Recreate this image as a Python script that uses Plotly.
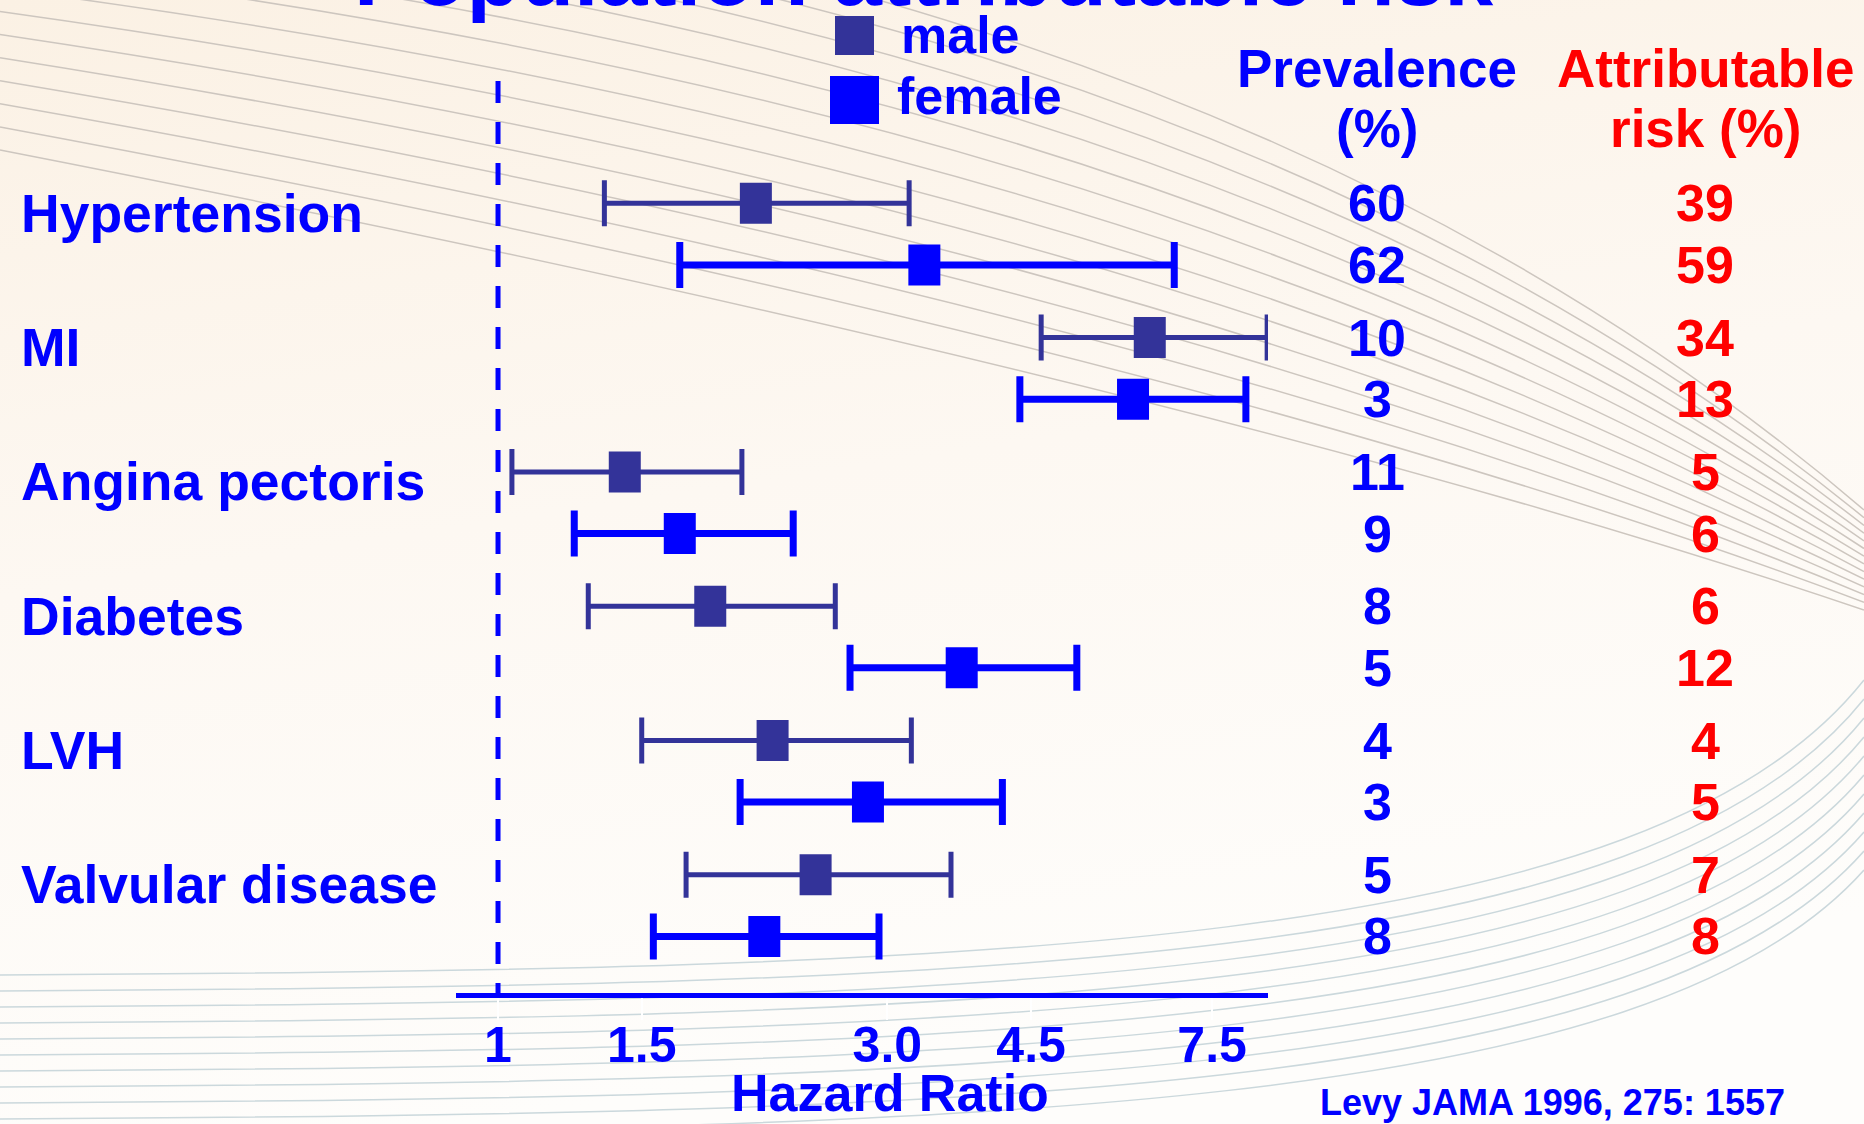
import base64
import math
import plotly.graph_objects as go

# ---------------- data ----------------
categories = ["Hypertension", "MI", "Angina pectoris", "Diabetes", "LVH", "Valvular disease"]

male_hr = [2.07, 6.29, 1.43, 1.82, 2.17, 2.45]
male_lo = [1.35, 4.63, 1.04, 1.29, 1.50, 1.70]
male_hi = [3.19, 8.76, 1.99, 2.59, 3.21, 3.59]

female_hr = [3.33, 6.00, 1.67, 3.70, 2.84, 2.12]
female_lo = [1.67, 4.36, 1.24, 2.70, 1.98, 1.55]
female_hi = [6.74, 8.25, 2.30, 5.12, 4.15, 2.93]

male_prevalence = [60, 10, 11, 8, 4, 5]
female_prevalence = [62, 3, 9, 5, 3, 8]
male_attr_risk = [39, 34, 5, 6, 4, 7]
female_attr_risk = [59, 13, 6, 12, 5, 8]

tick_vals = [1, 1.5, 3.0, 4.5, 7.5]
tick_text = ["1", "1.5", "3.0", "4.5", "7.5"]

# ---------------- layout geometry ----------------
W, H = 1864, 1124
L, R, T, B = 456, 1268, 57, 993
PW, PH = R - L, B - T
ROW_PX = 134.3
Y0_PX = 203.3
FEM_OFF = 61.6 / ROW_PX
BOX_HALF = 20.5 / ROW_PX

MALE_C = "#333399"
FEM_C = "#0000FF"
BLUE = "#0000FF"
RED = "#FF0000"
FONT = "Liberation Sans, Arial, Helvetica, sans-serif"


def px(xp):
    return (xp - L) / PW


def py(yp):
    return (B - yp) / PH


male_y = [float(i) for i in range(len(categories))]
female_y = [i + FEM_OFF for i in range(len(categories))]

# ---------------- background (decoration) ----------------
paths = []
n_up = 14
for k in range(n_up):
    s = -150 + k * 300 / (n_up - 1)
    e = 510 + k * 100 / (n_up - 1)
    c = -60 + k * 444 / (n_up - 1)
    paths.append(f'<path d="M0,{s:.1f} Q1200,{c:.1f} 1864,{e:.1f}" stroke="#cdc6bf" stroke-width="1.5" fill="none"/>')
n_lo = 11
for k in range(n_lo):
    a = 975 + k * 160 / (n_lo - 1)
    e = 680 + k * 190 / (n_lo - 1)
    paths.append(f'<path d="M0,{a:.1f} C1000,{a-5:.1f} 1650,{a-25:.1f} 1864,{e:.1f}" stroke="#cbd8dc" stroke-width="1.5" fill="none"/>')

svg = (
    f'<svg xmlns="http://www.w3.org/2000/svg" width="{W}" height="{H}" viewBox="0 0 {W} {H}" preserveAspectRatio="none">'
    '<defs><linearGradient id="g" x1="0" y1="0" x2="0.25" y2="1">'
    '<stop offset="0" stop-color="#FBF1E4"/><stop offset="0.5" stop-color="#FDF8F2"/>'
    '<stop offset="1" stop-color="#FEFDFB"/></linearGradient></defs>'
    f'<rect x="0" y="0" width="{W}" height="{H}" fill="url(#g)"/>'
    + "".join(paths) + "</svg>"
)
bg_src = "data:image/svg+xml;base64," + base64.b64encode(svg.encode()).decode()

# ---------------- traces ----------------
fig = go.Figure()


def err_trace(hr, lo, hi, ys, color, thick):
    return go.Scatter(
        x=hr, y=ys, mode="markers",
        marker=dict(size=1, opacity=0, color=color),
        error_x=dict(type="data", symmetric=False,
                     array=[h - m for h, m in zip(hi, hr)],
                     arrayminus=[m - l for m, l in zip(hr, lo)],
                     color=color, thickness=thick, width=23),
        showlegend=False, hoverinfo="skip", cliponaxis=False,
    )


def box_trace(hr, ys, color):
    xs, yy = [], []
    for v, y in zip(hr, ys):
        xs += [v, v, None]
        yy += [y - BOX_HALF, y + BOX_HALF, None]
    return go.Scatter(x=xs, y=yy, mode="lines", line=dict(color=color, width=32),
                      showlegend=False, hoverinfo="skip", cliponaxis=False)


fig.add_trace(err_trace(male_hr, male_lo, male_hi, male_y, MALE_C, 5))
fig.add_trace(err_trace(female_hr, female_lo, female_hi, female_y, FEM_C, 7))
fig.add_trace(box_trace(male_hr, male_y, MALE_C))
fig.add_trace(box_trace(female_hr, female_y, FEM_C))

# ---------------- annotations ----------------
ann = []


def text(t, x, y, size, color=BLUE, xanchor="center", xref="paper", yref="paper"):
    ann.append(dict(text=t, x=x, y=y, xref=xref, yref=yref, xanchor=xanchor, yanchor="middle",
                    showarrow=False, font=dict(family=FONT, size=size, color=color, weight="bold")))


text("Population attributable risk", px(924), py(-26), 88)
text("male", px(899), py(34.5), 52, xanchor="left")
text("female", px(895), py(96.5), 52, xanchor="left")
text("Prevalence", px(1377), py(68.5), 53)
text("(%)", px(1377), py(128.5), 53)
text("Attributable", px(1705), py(68.5), 53, color=RED)
text("risk (%)", px(1705), py(128.5), 53, color=RED)

for i, cat in enumerate(categories):
    text(cat, px(19), male_y[i] + 0.075, 53.5, xanchor="left", yref="y")
    text(str(male_prevalence[i]), px(1377), male_y[i], 52, yref="y")
    text(str(female_prevalence[i]), px(1377), female_y[i], 52, yref="y")
    text(str(male_attr_risk[i]), px(1705), male_y[i], 52, color=RED, yref="y")
    text(str(female_attr_risk[i]), px(1705), female_y[i], 52, color=RED, yref="y")

text("Hazard Ratio", px(890), py(1093), 52)
text("Levy JAMA 1996, 275: 1557", px(1552), py(1102), 36)

# ---------------- shapes ----------------
shapes = [
    # reference line at HR = 1
    dict(type="line", xref="x", yref="paper", x0=1, x1=1, y0=py(81), y1=0,
         line=dict(color=BLUE, width=5, dash="22px,19px"), layer="below"),
    # legend squares
    dict(type="rect", xref="paper", yref="paper", x0=px(835), x1=px(874), y0=py(55), y1=py(16),
         fillcolor=MALE_C, line=dict(width=0)),
    dict(type="rect", xref="paper", yref="paper", x0=px(830), x1=px(879), y0=py(124), y1=py(76),
         fillcolor=FEM_C, line=dict(width=0)),
]

fig.update_layout(
    width=W, height=H,
    margin=dict(l=L, r=W - R, t=T, b=H - B, pad=0),
    paper_bgcolor="#FDF8F2",
    plot_bgcolor="rgba(0,0,0,0)",
    showlegend=False,
    annotations=ann,
    shapes=shapes,
    images=[dict(source=bg_src, xref="paper", yref="paper", x=px(0), y=py(0),
                 sizex=W / PW, sizey=H / PH, xanchor="left", yanchor="top",
                 sizing="stretch", layer="below")],
    xaxis=dict(type="log", range=[math.log10(0.8882), math.log10(8.781)],
               tickvals=tick_vals, ticktext=tick_text,
               showgrid=False, zeroline=False, showline=True, linecolor=BLUE, linewidth=5,
               ticks="outside", ticklen=22, tickwidth=2, tickcolor="#FFFFFF",
               ticklabelstandoff=-18,
               tickfont=dict(family=FONT, size=50, color=BLUE, weight="bold"),
               fixedrange=True),
    yaxis=dict(range=[(B - Y0_PX) / ROW_PX, (T - Y0_PX) / ROW_PX], visible=False,
               showgrid=False, zeroline=False, fixedrange=True),
)

fig.write_html("out.html", include_plotlyjs=True, config={"displayModeBar": False})
